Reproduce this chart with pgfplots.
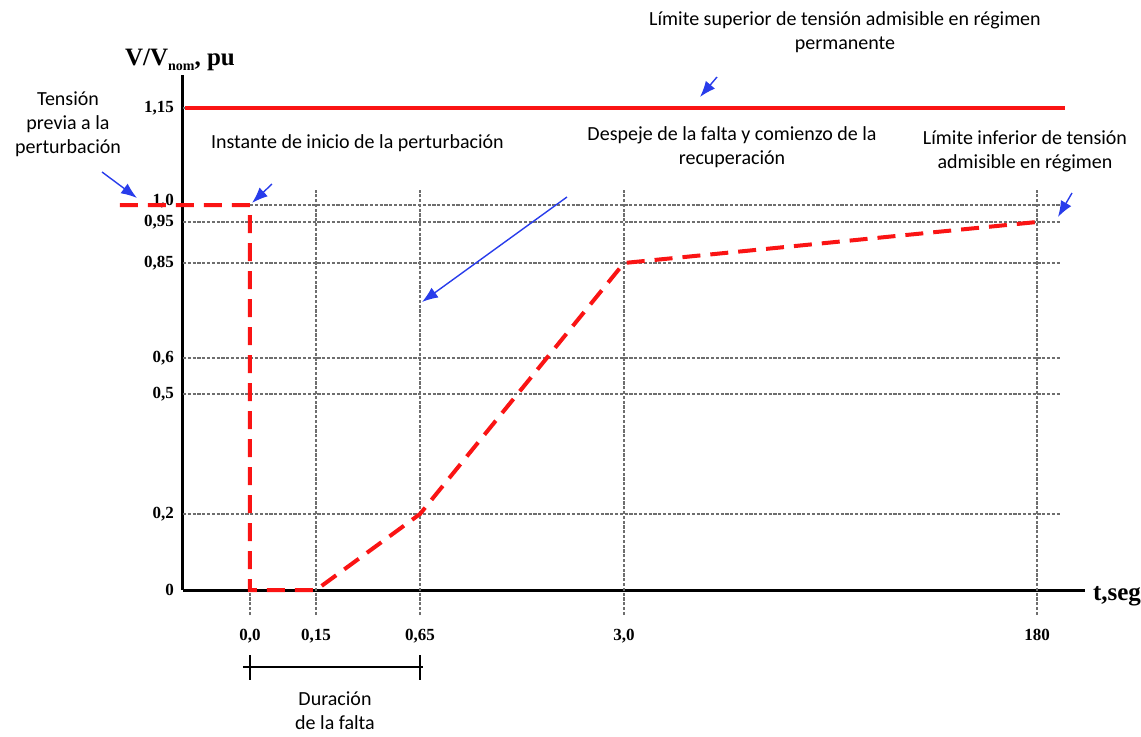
\documentclass[border=0pt]{standalone}
\usepackage{pgfplots}
\pgfplotsset{compat=1.18}
\usetikzlibrary{arrows.meta}
\usepackage{fontspec}
\setmainfont{Liberation Serif}
\newfontfamily\notefont{Carlito}

\definecolor{curva}{RGB}{250,20,20}
\definecolor{flecha}{RGB}{40,60,235}
\definecolor{rejilla}{RGB}{110,110,110}

% The scales of the original are schematic, not linear: each tick value is
% plotted at the place it has in the drawing.
%   t (s):    0,0 -> 250   0,15 -> 316   0,65 -> 420   3,0 -> 624   180 -> 1037
%   V (pu):   0 -> 0   0,2 -> 76   0,5 -> 196   0,6 -> 232   0,85 -> 327
%             0,95 -> 368   1,0 -> 385   1,15 -> 482

\begin{document}
\begin{tikzpicture}
\begin{axis}[
  scale only axis, width=451pt, height=257.5pt,
  clip=false,
  xmin=183, xmax=1085, ymin=0, ymax=515,
  axis lines=left,
  axis line style={-, line width=1.5pt},
  major tick length=0pt,
  xtick={250,316,420,624,1037},
  xticklabels={{0,0},{0,15},{0,65},{3,0},{180}},
  ytick={0,76,196,232,327,368,385,482},
  yticklabels={{0\hspace{6pt}},{0,2},{0,5},{0,6},{0,85},{0,95},{\raisebox{5pt}{1,0}},{1,15}},
  xticklabel style={font=\fontsize{8.5}{10}\selectfont\bfseries, yshift=-16pt},
  yticklabel style={font=\fontsize{8.5}{10}\selectfont\bfseries, xshift=-1pt},
]
\coordinate (SW) at (rel axis cs:0,0);

% dashed reference grid
\pgfplotsinvokeforeach{76,196,232,327,368,482}{
  \draw[rejilla, line width=0.6pt, dash pattern=on 1.6pt off 0.8pt]
    (axis cs:183,#1) -- (axis cs:1060,#1);}
\draw[rejilla, line width=0.6pt, dash pattern=on 1.6pt off 0.8pt]
  (axis cs:250,385) -- (axis cs:1060,385);
\pgfplotsinvokeforeach{316,420,624,1037}{
  \draw[rejilla, line width=0.6pt, dash pattern=on 1.6pt off 0.8pt]
    (axis cs:#1,-25) -- (axis cs:#1,400);}
\draw[rejilla, line width=0.6pt, dash pattern=on 1.6pt off 0.8pt]
  (axis cs:250,-25) -- (axis cs:250,0);

% upper admissible limit, 1,15 pu
\addplot[curva, line width=2pt] coordinates {(185,482) (1065,482)};

% voltage profile: 1,0 before the fault, 0 until 0,15 s, 0,2 at 0,65 s,
% 0,85 at 3,0 s, 0,95 at 180 s
\addplot[curva, line width=2pt, dash pattern=on 9pt off 5pt] coordinates {
  (120,385) (250,385) (250,0) (316,0) (420,76) (624,327) (1037,368)};
\end{axis}

% annotations, placed in reference pixel units
\begin{scope}[shift={(SW)}, shift={(-91.5pt,295pt)}, x=0.5pt, y=-0.5pt]
  \node[font=\fontsize{12.5}{14}\selectfont\bfseries] at (180,60)
    {V/V\raisebox{-0.4ex}{\fontsize{7}{8}\selectfont nom}, pu};
  \node[font=\fontsize{12.5}{14}\selectfont\bfseries, anchor=west] at (1086,596) {t,seg};

  \begin{scope}[font=\notefont\fontsize{10}{12}\selectfont, align=center]
    \node at (68,124) {Tensión\\previa a la\\perturbación};
    \node[anchor=west] at (204,143) {Instante de inicio de la perturbación};
    \node at (732,147) {Despeje de la falta y comienzo de la\\recuperación};
    \node at (1025,151) {Límite inferior de tensión\\admisible en régimen};
    \node at (845,32) {Límite superior de tensión admisible en régimen\\permanente};
    \node at (335,711) {Duración\\de la falta};
  \end{scope}

  \begin{scope}[flecha, line width=0.7pt, -{Latex[length=8pt,width=6pt]}]
    \draw (102,172) -- (137,198);
    \draw (272,184) -- (252,203);
    \draw (567,197) -- (422,302);
    \draw (717,77) -- (700,97);
    \draw (1072,193) -- (1058,217);
  \end{scope}

  \begin{scope}[line width=1pt]
    \draw (243,667) -- (423,667);
    \draw (250,655) -- (250,680);
    \draw (420,655) -- (420,680);
  \end{scope}

  \pgfresetboundingbox
  \path[use as bounding box] (0,0) rectangle (1141,736);
\end{scope}
\end{tikzpicture}
\end{document}
